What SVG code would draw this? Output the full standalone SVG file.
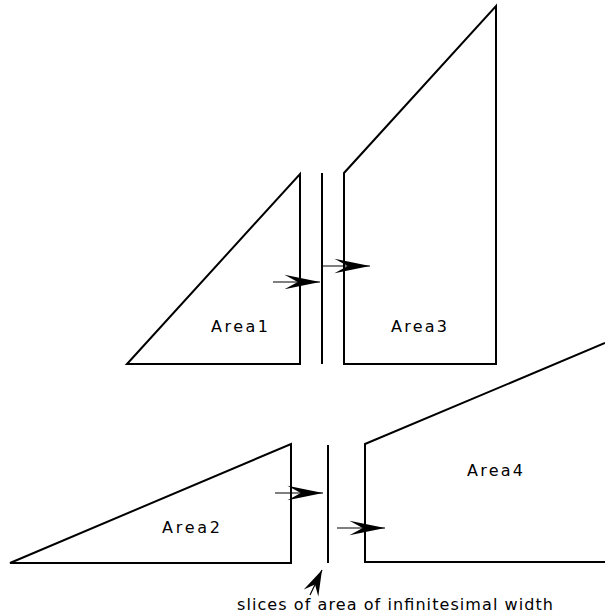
<svg xmlns="http://www.w3.org/2000/svg" width="605" height="615" viewBox="0 0 605 615">
<defs>
<style>
.shape{fill:none;stroke:#000;stroke-width:2;stroke-linejoin:miter}
.slice{fill:none;stroke:#000;stroke-width:2}
.conn{fill:none;stroke:#000;stroke-width:1.2}
.lbl{font-family:"DejaVu Sans","Verdana",sans-serif;font-size:16px;fill:#000}
</style>
<marker id="head" markerUnits="userSpaceOnUse" markerWidth="40" markerHeight="20" viewBox="-34 -8 36 16" refX="0" refY="0" orient="auto">
<path d="M0,0 L-32,-6.5 L-20,0 L-32,6.5 Z" fill="#000"/>
</marker>
<marker id="headSmall" markerUnits="userSpaceOnUse" markerWidth="30" markerHeight="20" viewBox="-24 -8 26 16" refX="0" refY="0" orient="auto">
<path d="M0,0 L-22,-7 L-14,0 L-22,7 Z" fill="#000"/>
</marker>
</defs>
<rect width="605" height="615" fill="#fff"/>
<g id="area1"><path class="shape" d="M127,364 L300,174 L300,364 Z"/><text class="lbl" x="211" y="332" textLength="57" lengthAdjust="spacing">Area1</text></g>
<g id="slice1"><line class="slice" x1="322" y1="173" x2="322" y2="364"/></g>
<g id="area3"><path class="shape" d="M344,364 L344,173 L496,6 L496,364 Z"/><text class="lbl" x="391" y="332" textLength="56" lengthAdjust="spacing">Area3</text></g>
<g id="area2"><path class="shape" d="M10,563 L291,444 L291,563 Z"/><text class="lbl" x="162" y="533" textLength="58" lengthAdjust="spacing">Area2</text></g>
<g id="slice2"><line class="slice" x1="328" y1="445" x2="328" y2="563"/></g>
<g id="area4"><path class="shape" d="M605,343 L365,444 L365,562 L605,562"/><text class="lbl" x="467" y="476" textLength="56" lengthAdjust="spacing">Area4</text></g>
<g id="caption"><text class="lbl" x="237" y="610" textLength="316" lengthAdjust="spacing">slices of area of infinitesimal width</text></g>
<g id="connectors">
<line class="conn" x1="273" y1="282" x2="320" y2="282" marker-end="url(#head)"/>
<line class="conn" x1="322" y1="266" x2="370" y2="266" marker-end="url(#head)"/>
<line class="conn" x1="275" y1="493" x2="323" y2="493" marker-end="url(#head)"/>
<line class="conn" x1="337" y1="528" x2="385" y2="528" marker-end="url(#head)"/>
<line class="conn" x1="310" y1="595" x2="322" y2="570" stroke-width="2" marker-end="url(#headSmall)"/>
</g>
</svg>
